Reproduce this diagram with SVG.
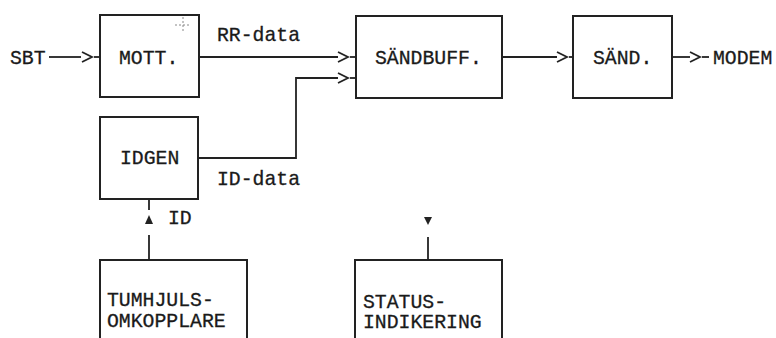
<svg xmlns="http://www.w3.org/2000/svg" width="776" height="338" viewBox="0 0 776 338">
<style>
.box{fill:#fff;stroke:#222;stroke-width:2}
.ln{fill:none;stroke:#222;stroke-width:1.8}
.chev{fill:none;stroke:#222;stroke-width:1.8;stroke-linejoin:miter}
.t{font-family:"Liberation Mono","Courier New",monospace;font-size:19.8px;fill:#1a1a1a;stroke:#1a1a1a;stroke-width:0.3}
.tri{fill:#222}
.art{stroke:#888;stroke-width:1;stroke-dasharray:2 2;fill:none}
</style>
<rect width="776" height="338" fill="#fff"/>
<g id="connectors">
  <!-- SBT -> MOTT -->
  <line class="ln" x1="49" y1="57" x2="81" y2="57"/>
  <polyline class="chev" points="82,52 92,57 82,62"/>
  <line class="ln" x1="94" y1="57" x2="100" y2="57"/>
  <!-- MOTT -> SANDBUFF -->
  <line class="ln" x1="199" y1="57" x2="338" y2="57"/>
  <polyline class="chev" points="338,52 348,57 338,62"/>
  <line class="ln" x1="350" y1="57" x2="356" y2="57"/>
  <!-- IDGEN -> SANDBUFF -->
  <polyline class="ln" points="198,158 296,158 296,78 338,78"/>
  <polyline class="chev" points="338,73 348,78 338,83"/>
  <line class="ln" x1="350" y1="78" x2="356" y2="78"/>
  <!-- SANDBUFF -> SAND -->
  <line class="ln" x1="502" y1="57" x2="557" y2="57"/>
  <polyline class="chev" points="557,52 567,57 557,62"/>
  <line class="ln" x1="569" y1="57" x2="573" y2="57"/>
  <!-- SAND -> MODEM -->
  <line class="ln" x1="672" y1="57" x2="690" y2="57"/>
  <polyline class="chev" points="690,52 700,57 690,62"/>
  <line class="ln" x1="702" y1="57" x2="709" y2="57"/>
  <!-- TUMHJULS -> IDGEN -->
  <line class="ln" x1="149" y1="199" x2="149" y2="210"/>
  <polygon class="tri" points="149,215 145,224 153,224"/>
  <line class="ln" x1="149" y1="235" x2="149" y2="260"/>
  <!-- to STATUS -->
  <polygon class="tri" points="424,217 432,217 428,225"/>
  <line class="ln" x1="428" y1="237" x2="428" y2="260"/>
</g>
<g id="labels">
  <text class="t" x="10" y="64">SBT</text>
  <text class="t" x="217" y="41">RR-data</text>
  <text class="t" x="217" y="185">ID-data</text>
  <text class="t" x="168" y="224">ID</text>
  <text class="t" x="713" y="64">MODEM</text>
</g>
<g id="mott">
  <rect class="box" x="100" y="15" width="99" height="82"/>
  <text class="t" x="119" y="64">MOTT.</text>
  <path class="art" d="M183,17 V33 M175,25 H191"/>
</g>
<g id="sandbuff">
  <rect class="box" x="356" y="16" width="146" height="82"/>
  <text class="t" x="375" y="64">SÄNDBUFF.</text>
</g>
<g id="sand">
  <rect class="box" x="573" y="16" width="99" height="82"/>
  <text class="t" x="593" y="64">SÄND.</text>
</g>
<g id="idgen">
  <rect class="box" x="100" y="117" width="98" height="82"/>
  <text class="t" x="120" y="164">IDGEN</text>
</g>
<g id="tumhjuls">
  <rect class="box" x="100" y="260" width="147" height="90"/>
  <text class="t" x="107" y="306">TUMHJULS-</text>
  <text class="t" x="107" y="327">OMKOPPLARE</text>
</g>
<g id="status">
  <rect class="box" x="355" y="260" width="147" height="90"/>
  <text class="t" x="363" y="308">STATUS-</text>
  <text class="t" x="363" y="328">INDIKERING</text>
</g>
</svg>
